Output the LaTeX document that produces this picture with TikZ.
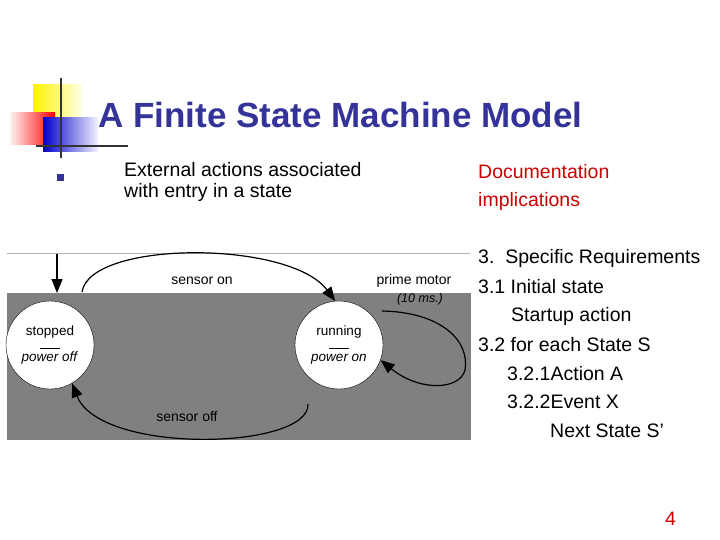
\documentclass[tikz,border=0pt]{standalone}
\usepackage{fontspec}
\setmainfont{Liberation Sans}
\usetikzlibrary{arrows.meta}
\definecolor{ttl}{HTML}{333399}
\definecolor{redt}{HTML}{CC0000}
\definecolor{gry}{HTML}{808080}
\begin{document}
\begin{tikzpicture}[x=1pt,y=-1pt,
  txt/.style={anchor=west,inner sep=0pt,font=\fontsize{19.5}{22}\selectfont},
  lst/.style={anchor=west,inner sep=0pt,font=\fontsize{19.5}{22}\selectfont},
  st/.style={circle,draw=black,fill=white,minimum size=88pt,inner sep=0pt,align=center,font=\fontsize{13.5}{15}\selectfont},
  lbl/.style={inner sep=0pt,font=\fontsize{14}{16}\selectfont},
  arr/.style={line width=1.2pt,-{Triangle[length=14pt,width=11pt]}}]
\useasboundingbox (0,0) rectangle (720,540);
\fill[white] (0,0) rectangle (720,540);
% logo
\shade[left color=yellow!90!orange,right color=yellow!10] (33,85) rectangle (82,120);
\shade[left color=red!5,right color=red] (10,113) rectangle (55,145);
\shade[left color=blue!80!black,right color=blue!5] (43,118) rectangle (98,152);
\draw[line width=2.5pt,black!80] (61,78) -- (61,158);
\draw[line width=2.5pt,black!80] (36,146) -- (128,146);
\node[anchor=west,inner sep=0pt,text=ttl,font=\bfseries\fontsize{35}{40}\selectfont] (title) at (98,115) {A Finite State Machine Model};
\fill[ttl] (57,174) rectangle (64,181);
\node[txt] (b1) at (124,170) {External actions associated};
\node[txt] (b2) at (124,192) {with entry in a state};
\node[lst,text=redt] (d1) at (478,172) {Documentation};
\node[lst,text=redt] (d2) at (478,201) {implications};
\node[lst] (l1) at (478,258) {3.\ \ Specific Requirements};
\node[lst] (l2) at (478,287) {3.1 Initial state};
\node[lst] (l3) at (511,316) {Startup action};
\node[lst] (l4) at (478,345) {3.2 for each State S};
\node[lst] (l5) at (507,374) {3.2.1Action A};
\node[lst] (l6) at (507,402) {3.2.2Event X};
\node[lst] (l7) at (550,431) {Next State S’};
\node[lst,text=redt] (pg) at (665,519) {4};
% diagram
\draw[gray!60] (7,253) -- (470,253);
\fill[gry] (7,293) rectangle (471,440);
\node[st] (s) at (50,345) {stopped\\[-2pt]\rule{20pt}{0.4pt}\\[-2pt]\textit{power off}};
\node[st] (r) at (339,345) {running\\[-2pt]\rule{20pt}{0.4pt}\\[-2pt]\textit{power on}};
\coordinate (i0) at (57,254);
\draw[arr] (i0) -- (57,293);
\draw[arr] (82,292) .. controls (90,240) and (290,240) .. (r.95);
\node[lbl] (so) at (202,281) {sensor on};
\node[lbl] (pm) at (414,281) {prime motor};
\node[lbl,font=\itshape\fontsize{12.5}{14}\selectfont] (ms) at (420,299) {(10 ms.)};
\draw[arr] (382,311) .. controls (440,312) and (470,340) .. (465,370) .. controls (460,390) and (420,392) .. (r.-20);
\draw[arr] (308,404) .. controls (310,450) and (100,455) .. (s.-60);
\node[lbl] (sf) at (187,417) {sensor off};
\end{tikzpicture}
\end{document}
